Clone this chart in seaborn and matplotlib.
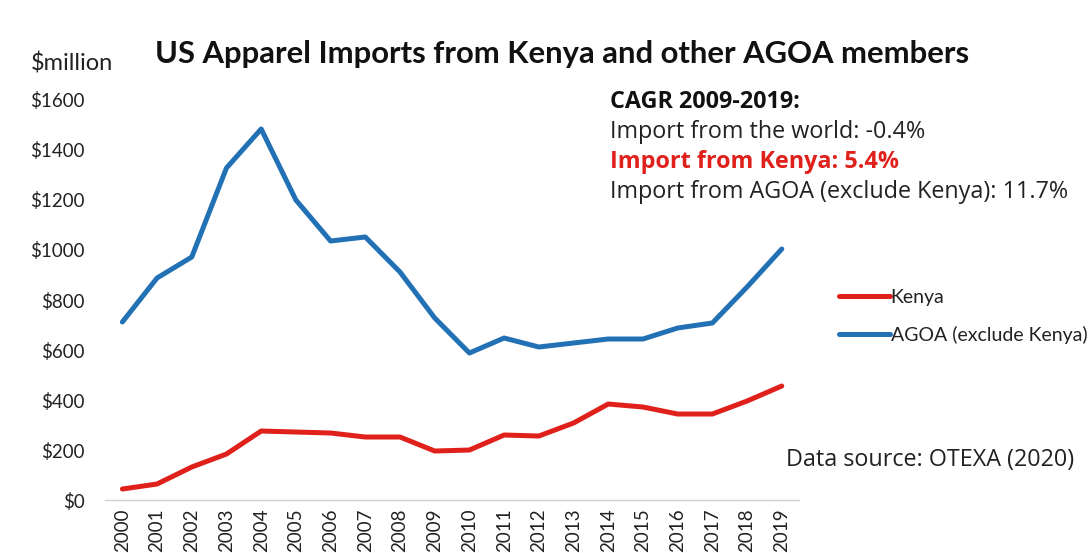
import matplotlib
matplotlib.use("Agg")
import matplotlib.pyplot as plt
import seaborn as sns
import pandas as pd

# US apparel imports, $ million
years = list(range(2000, 2020))
kenya = [44, 64, 132, 184, 276, 272, 268, 252, 252, 196,
         200, 260, 256, 308, 384, 372, 344, 344, 396, 456]
agoa_ex_kenya = [712, 888, 972, 1328, 1484, 1200, 1036, 1052, 912, 728,
                 588, 648, 612, 628, 644, 644, 688, 708, 852, 1004]
series_names = ["Kenya", "AGOA (exclude Kenya)"]
y_ticks = [0, 200, 400, 600, 800, 1000, 1200, 1400, 1600]

title = "US Apparel Imports from Kenya and other AGOA members"
cagr_lines = ["CAGR 2009-2019:",
              "Import from the world: -0.4%",
              "Import from Kenya: 5.4%",
              "Import from AGOA (exclude Kenya): 11.7%"]
source = "Data source: OTEXA (2020)"

df = pd.DataFrame({
    "year": years * 2,
    "value": kenya + agoa_ex_kenya,
    "series": [series_names[0]] * len(years) + [series_names[1]] * len(years),
})

sns.set_theme(style="white")
plt.rcParams["font.family"] = ["Lato", "DejaVu Sans"]

RED = "#E0201B"
BLUE = "#2371B5"
TEXT = "#222222"
NOTE_FONT = ["Open Sans", "DejaVu Sans"]
NOTE_SIZE = 16.8

fig = plt.figure(figsize=(10.88, 5.53), dpi=100)
ax = fig.add_axes([0.0965, 0.0958, 0.638, 0.7234])

sns.lineplot(data=df, x="year", y="value", hue="series",
             palette={series_names[0]: RED, series_names[1]: BLUE},
             linewidth=3.6, ax=ax, legend=True)

ax.set_xlim(years[0] - 0.5, years[-1] + 0.5)
ax.set_ylim(0, 1600)
ax.set_xticks(years)
ax.set_xticklabels([str(y) for y in years], rotation=90, fontsize=13.5, color=TEXT)
ax.set_yticks(y_ticks)
ax.set_yticklabels([f"${v}" for v in y_ticks], fontsize=13.5, color=TEXT)
ax.tick_params(axis="y", length=0, pad=14.5)
ax.tick_params(axis="x", length=0, pad=6)
ax.set_xlabel("")
ax.set_ylabel("")

for side in ["top", "right", "left"]:
    ax.spines[side].set_visible(False)
ax.spines["bottom"].set_color("#D0D0D0")
ax.spines["bottom"].set_linewidth(1.0)

leg = ax.legend(loc="upper left", bbox_to_anchor=(0.764, 0.492),
                bbox_transform=fig.transFigure, frameon=False,
                fontsize=14, handlelength=2.6, handletextpad=0.05,
                labelspacing=1.05, borderaxespad=0)
for line in leg.get_lines():
    line.set_linewidth(3.6)
for t in leg.get_texts():
    t.set_color(TEXT)

fig.text(0.517, 0.903, title, ha="center", va="center",
         fontsize=22.3, fontweight="bold", color="#111111")
fig.text(0.028, 0.886, "$million", ha="left", va="center",
         fontsize=17, color=TEXT)

y0 = 1 - 102 / 553
dy = 30 / 553
fig.text(0.561, y0, cagr_lines[0], ha="left", va="center",
         fontsize=NOTE_SIZE, fontweight="bold", color="#111111", family=NOTE_FONT)
fig.text(0.561, y0 - dy, cagr_lines[1], ha="left", va="center",
         fontsize=NOTE_SIZE, color=TEXT, family=NOTE_FONT)
fig.text(0.561, y0 - 2 * dy, cagr_lines[2], ha="left", va="center",
         fontsize=NOTE_SIZE, fontweight="bold", color=RED, family=NOTE_FONT)
fig.text(0.561, y0 - 3 * dy, cagr_lines[3], ha="left", va="center",
         fontsize=NOTE_SIZE, color=TEXT, family=NOTE_FONT)

fig.text(0.7225, 1 - 460 / 553, source, ha="left", va="center",
         fontsize=NOTE_SIZE, color=TEXT, family=NOTE_FONT)

fig.savefig("out.png", dpi=100)
